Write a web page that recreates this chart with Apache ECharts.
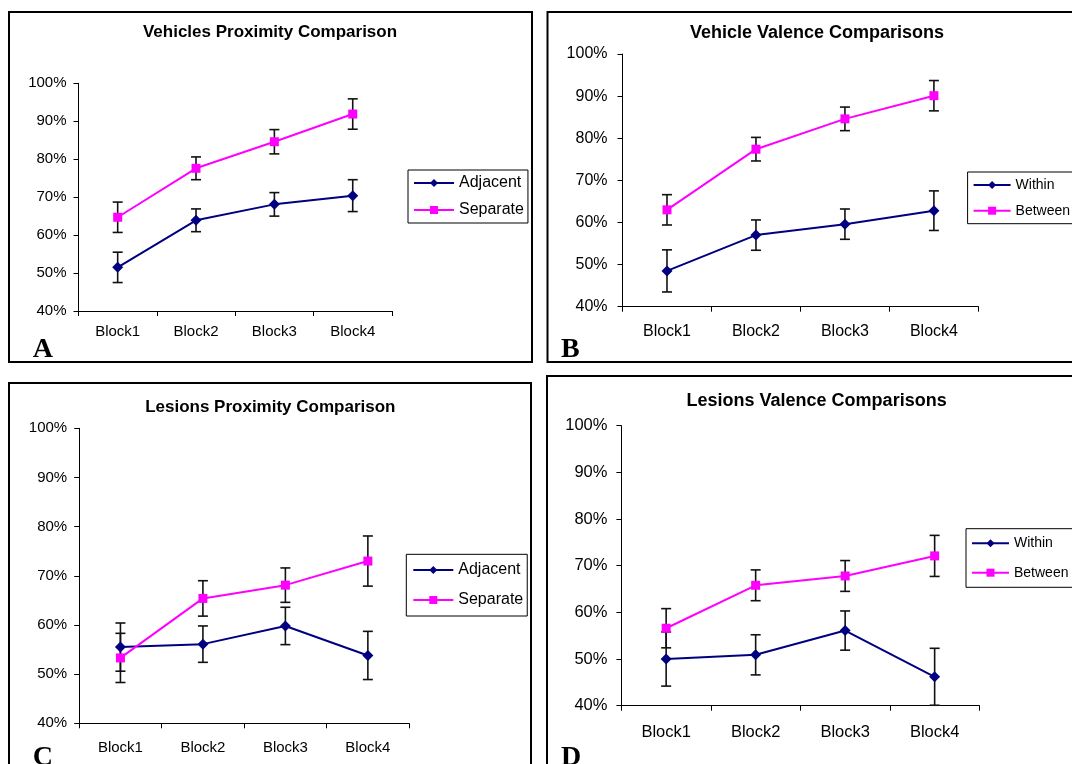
<!DOCTYPE html>
<html>
<head>
<meta charset="utf-8">
<script src="https://cdn.jsdelivr.net/npm/echarts@6/dist/echarts.min.js"></script>
<style>
  html, body { margin: 0; padding: 0; background: #fff; }
  #chart { width: 1072px; height: 764px; }
</style>
</head>
<body>
<div id="chart"></div>
<script>
// ---- data (percent correct, mean and standard error per block) ----
const blocks = ['Block1', 'Block2', 'Block3', 'Block4'];
const yMin = 40, yMax = 100, yStep = 10;

const vehProxAdjacent    = [51.5, 63.9, 68.1, 70.4];
const vehProxAdjacentErr = [4.0, 3.0, 3.1, 4.2];
const vehProxSeparate    = [64.7, 77.6, 84.6, 91.9];
const vehProxSeparateErr = [4.0, 3.0, 3.2, 4.0];

const vehValWithin       = [48.5, 57.0, 59.6, 62.8];
const vehValWithinErr    = [5.0, 3.6, 3.6, 4.7];
const vehValBetween      = [63.0, 77.4, 84.6, 90.1];
const vehValBetweenErr   = [3.6, 2.8, 2.8, 3.6];

const lesProxAdjacent    = [55.5, 56.1, 59.8, 53.8];
const lesProxAdjacentErr = [4.9, 3.7, 3.8, 4.9];
const lesProxSeparate    = [53.3, 65.4, 68.1, 73.0];
const lesProxSeparateErr = [5.0, 3.6, 3.5, 5.1];

const lesValWithin       = [50.0, 50.9, 56.1, 46.2];
const lesValWithinErr    = [5.8, 4.3, 4.2, 6.1];
const lesValBetween      = [56.6, 65.8, 67.8, 72.1];
const lesValBetweenErr   = [4.2, 3.3, 3.3, 4.4];

const titles = [
  'Vehicles Proximity Comparison',
  'Vehicle Valence Comparisons',
  'Lesions Proximity Comparison',
  'Lesions Valence Comparisons'
];
const panelLetters = ['A', 'B', 'C', 'D'];

// ---- styling ----
const NAVY = '#000080';
const MAGENTA = '#FF00FF';
const SANS = '"Liberation Sans", Arial, sans-serif';
const SERIF = '"Liberation Serif", "Times New Roman", serif';

// layout of each of the four panels
const panels = [
  {
    names: ['Adjacent', 'Separate'],
    values: [vehProxAdjacent, vehProxSeparate],
    errors: [vehProxAdjacentErr, vehProxSeparateErr],
    grid: { left: 78.5, top: 83.3, width: 313.4, height: 227.7 },
    frame: { x: 9, y: 12, width: 523, height: 350 },
    title: { x: 270, y: 32.3, size: 17 },
    letter: { x: 32.7, y: 349.5 },
    legend: { left: 408, top: 170, padding: [5, 4, 5, 5], itemWidth: 40, itemGap: 11, fontSize: 16 },
    axisFont: 15, xMargin: 13, yMargin: 12
  },
  {
    names: ['Within', 'Between'],
    values: [vehValWithin, vehValBetween],
    errors: [vehValWithinErr, vehValBetweenErr],
    grid: { left: 622.5, top: 54, width: 355.9, height: 252.7 },
    frame: { x: 547.5, y: 12, width: 600, height: 350 },
    title: { x: 817, y: 33.3, size: 18 },
    letter: { x: 561, y: 349.5 },
    legend: { left: 967.6, top: 172, padding: [6, 60, 6, 5], itemWidth: 37, itemGap: 11.7, fontSize: 14 },
    axisFont: 16, xMargin: 17, yMargin: 15
  },
  {
    names: ['Adjacent', 'Separate'],
    values: [lesProxAdjacent, lesProxSeparate],
    errors: [lesProxAdjacentErr, lesProxSeparateErr],
    grid: { left: 79.2, top: 428.3, width: 329.9, height: 295 },
    frame: { x: 9, y: 383, width: 522, height: 400 },
    title: { x: 270.3, y: 407.3, size: 17 },
    letter: { x: 32.7, y: 758 },
    legend: { left: 406.3, top: 554.3, padding: [7.7, 4, 8, 6], itemWidth: 40, itemGap: 14, fontSize: 16 },
    axisFont: 15, xMargin: 17.5, yMargin: 12
  },
  {
    names: ['Within', 'Between'],
    values: [lesValWithin, lesValBetween],
    errors: [lesValWithinErr, lesValBetweenErr],
    grid: { left: 621.4, top: 425.7, width: 358, height: 280 },
    frame: { x: 547, y: 376, width: 600, height: 400 },
    title: { x: 816.6, y: 400.7, size: 18 },
    letter: { x: 561, y: 758 },
    legend: { left: 966, top: 528.7, padding: [7.6, 60, 7.6, 5], itemWidth: 37, itemGap: 15.4, fontSize: 14 },
    axisFont: 16.5, xMargin: 18.7, yMargin: 14
  }
];

const seriesColors = [NAVY, MAGENTA];
const seriesSymbols = ['diamond', 'rect'];
const seriesSymbolSizes = [11, 9];

// vertical error bar with short caps
function renderErrorBar(params, api) {
  const idx = api.value(0);
  const top = api.coord([idx, api.value(2)]);
  const bot = api.coord([idx, api.value(1)]);
  const half = 5;
  const style = { stroke: '#111', lineWidth: 1.6 };
  return {
    type: 'group',
    children: [
      { type: 'line', shape: { x1: top[0], y1: top[1], x2: bot[0], y2: bot[1] }, style },
      { type: 'line', shape: { x1: top[0] - half, y1: top[1], x2: top[0] + half, y2: top[1] }, style },
      { type: 'line', shape: { x1: bot[0] - half, y1: bot[1], x2: bot[0] + half, y2: bot[1] }, style }
    ]
  };
}

const grids = [], xAxes = [], yAxes = [], series = [], legends = [], graphics = [];

panels.forEach((p, k) => {
  grids.push(Object.assign({ containLabel: false }, p.grid));

  xAxes.push({
    type: 'category',
    gridIndex: k,
    data: blocks,
    boundaryGap: true,
    axisLine: { show: true, lineStyle: { color: '#000', width: 1 } },
    axisTick: { show: true, inside: false, length: 5, alignWithLabel: false, lineStyle: { color: '#000', width: 1 } },
    axisLabel: { show: true, color: '#000', fontFamily: SANS, fontSize: p.axisFont, margin: p.xMargin, interval: 0 },
    splitLine: { show: false }
  });

  yAxes.push({
    type: 'value',
    gridIndex: k,
    min: yMin,
    max: yMax,
    interval: yStep,
    axisLine: { show: true, lineStyle: { color: '#000', width: 1 } },
    axisTick: { show: true, inside: false, length: 5, lineStyle: { color: '#000', width: 1 } },
    axisLabel: { show: true, color: '#000', fontFamily: SANS, fontSize: p.axisFont, margin: p.yMargin, formatter: '{value}%' },
    splitLine: { show: false }
  });

  p.names.forEach((name, s) => {
    const vals = p.values[s];
    const errs = p.errors[s];
    series.push({
      type: 'custom',
      name: name + ' error',
      xAxisIndex: k,
      yAxisIndex: k,
      z: 2,
      silent: true,
      renderItem: renderErrorBar,
      encode: { x: 0, y: [1, 2] },
      data: vals.map((v, i) => [i, v - errs[i], v + errs[i]])
    });
    series.push({
      type: 'line',
      name: name,
      xAxisIndex: k,
      yAxisIndex: k,
      z: 3,
      data: vals,
      symbol: seriesSymbols[s],
      symbolSize: seriesSymbolSizes[s],
      showSymbol: true,
      lineStyle: { color: seriesColors[s], width: 2 },
      itemStyle: { color: seriesColors[s], borderWidth: 0 },
      emphasis: { disabled: true }
    });
  });

  const lg = p.legend;
  legends.push({
    orient: 'vertical',
    left: lg.left,
    top: lg.top,
    padding: lg.padding,
    itemWidth: lg.itemWidth,
    itemHeight: 10,
    itemGap: lg.itemGap,
    borderColor: '#000',
    borderWidth: 1,
    borderRadius: 0,
    backgroundColor: '#fff',
    selectedMode: false,
    textStyle: { color: '#000', fontFamily: SANS, fontSize: lg.fontSize, lineHeight: lg.fontSize },
    data: p.names.slice()
  });

  // panel frame
  graphics.push({
    type: 'rect',
    shape: p.frame,
    style: { fill: 'none', stroke: '#000', lineWidth: 2 },
    z: -1,
    silent: true
  });
  // panel title
  graphics.push({
    type: 'text',
    x: p.title.x,
    y: p.title.y,
    style: {
      text: titles[k],
      fill: '#000',
      fontFamily: SANS,
      fontWeight: 'bold',
      fontSize: p.title.size,
      align: 'center',
      verticalAlign: 'middle'
    },
    silent: true
  });
  // panel letter
  graphics.push({
    type: 'text',
    x: p.letter.x,
    y: p.letter.y,
    style: {
      text: panelLetters[k],
      fill: '#000',
      fontFamily: SERIF,
      fontWeight: 'bold',
      fontSize: 28,
      align: 'left',
      verticalAlign: 'middle'
    },
    silent: true
  });
});

const chart = echarts.init(document.getElementById('chart'), null, { renderer: 'canvas', width: 1072, height: 764 });
chart.setOption({
  backgroundColor: '#fff',
  animation: false,
  grid: grids,
  xAxis: xAxes,
  yAxis: yAxes,
  legend: legends,
  series: series,
  graphic: graphics
});
</script>
</body>
</html>
